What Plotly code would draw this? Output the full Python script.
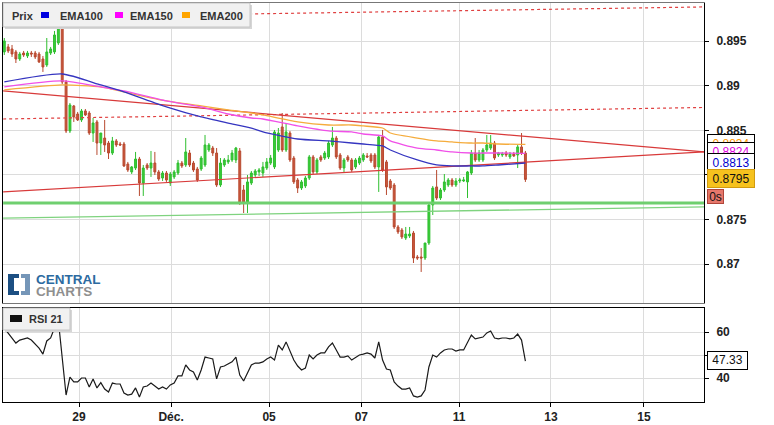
import plotly.graph_objects as go

# ---------------- data ----------------
OPEN = [0.89378, 0.89434, 0.89411, 0.89378, 0.89299, 0.89366, 0.89333, 0.89366, 0.89366, 0.89355,
        0.89299, 0.89232, 0.89366, 0.89378, 0.89478, 0.89646, 0.89042, 0.88493, 0.88773, 0.88683,
        0.88616, 0.88717, 0.88694, 0.88470, 0.88594, 0.88358, 0.88414, 0.88358, 0.88246, 0.88381,
        0.88347, 0.88347, 0.88123, 0.88034, 0.88078, 0.88179, 0.87910, 0.88112, 0.88078, 0.88134,
        0.88034, 0.87966, 0.88022, 0.87910, 0.87978, 0.88022, 0.88134, 0.88112, 0.88246, 0.88134,
        0.88067, 0.88067, 0.88112, 0.88280, 0.88302, 0.88246, 0.87888, 0.88112, 0.88146, 0.88168,
        0.88168, 0.88269, 0.87832, 0.87686, 0.87910, 0.88000, 0.88034, 0.88022, 0.88078, 0.88134,
        0.88090, 0.88280, 0.88538, 0.88280, 0.88470, 0.88190, 0.87944, 0.87854, 0.87877, 0.87966,
        0.88202, 0.88034, 0.88202, 0.88190, 0.88202, 0.88336, 0.88414, 0.88224, 0.88078, 0.88202,
        0.88168, 0.88090, 0.88134, 0.88168, 0.88213, 0.88224, 0.88224, 0.88090, 0.88426, 0.88146,
        0.87933, 0.87888, 0.87418, 0.87384, 0.87294, 0.87317, 0.87350, 0.87082, 0.87082, 0.87070,
        0.87238, 0.87664, 0.87866, 0.87742, 0.87832, 0.87888, 0.87944, 0.87888, 0.87933, 0.87933,
        0.87922, 0.88022, 0.88246, 0.88168, 0.88168, 0.88280, 0.88302, 0.88358, 0.88224, 0.88224,
        0.88246, 0.88202, 0.88235, 0.88224, 0.88314, 0.88246]
HIGH = [0.89534, 0.89467, 0.89456, 0.89400, 0.89378, 0.89389, 0.89389, 0.89389, 0.89389, 0.89378,
        0.89333, 0.89534, 0.89434, 0.89613, 0.89669, 0.89669, 0.89064, 0.88806, 0.88784, 0.88706,
        0.88739, 0.88739, 0.88717, 0.88638, 0.88616, 0.88470, 0.88616, 0.88381, 0.88426, 0.88403,
        0.88370, 0.88370, 0.88146, 0.88101, 0.88258, 0.88202, 0.88112, 0.88134, 0.88269, 0.88258,
        0.88056, 0.88045, 0.88045, 0.88034, 0.88056, 0.88168, 0.88157, 0.88414, 0.88280, 0.88157,
        0.88090, 0.88213, 0.88448, 0.88358, 0.88325, 0.88302, 0.88190, 0.88190, 0.88224, 0.88280,
        0.88314, 0.88302, 0.87888, 0.88000, 0.88045, 0.88067, 0.88078, 0.88146, 0.88190, 0.88224,
        0.88504, 0.88526, 0.88694, 0.88582, 0.88493, 0.88213, 0.87966, 0.87944, 0.87989, 0.88224,
        0.88224, 0.88190, 0.88224, 0.88269, 0.88381, 0.88538, 0.88437, 0.88246, 0.88190, 0.88224,
        0.88190, 0.88190, 0.88213, 0.88246, 0.88246, 0.88246, 0.88246, 0.88448, 0.88504, 0.88168,
        0.87955, 0.87910, 0.87440, 0.87406, 0.87418, 0.87418, 0.87373, 0.87104, 0.87182, 0.87238,
        0.87686, 0.87877, 0.88056, 0.87854, 0.88011, 0.87966, 0.87966, 0.87966, 0.87966, 0.87978,
        0.88045, 0.88280, 0.88414, 0.88280, 0.88302, 0.88448, 0.88448, 0.88381, 0.88258, 0.88258,
        0.88269, 0.88258, 0.88258, 0.88336, 0.88470, 0.88269]
LOW = [0.89344, 0.89366, 0.89322, 0.89254, 0.89277, 0.89322, 0.89310, 0.89322, 0.89299, 0.89254,
       0.89154, 0.89210, 0.89344, 0.89355, 0.89456, 0.89019, 0.88470, 0.88470, 0.88594, 0.88605,
       0.88594, 0.88661, 0.88448, 0.88370, 0.88224, 0.88224, 0.88258, 0.88179, 0.88224, 0.88314,
       0.88325, 0.88090, 0.88034, 0.88011, 0.88056, 0.87765, 0.87765, 0.88056, 0.87978, 0.88000,
       0.87933, 0.87933, 0.87922, 0.87877, 0.87955, 0.88000, 0.88078, 0.88090, 0.88090, 0.88034,
       0.87922, 0.88045, 0.88090, 0.88258, 0.88213, 0.87866, 0.87866, 0.88090, 0.88123, 0.88146,
       0.88134, 0.87664, 0.87574, 0.87574, 0.87888, 0.87978, 0.87989, 0.87978, 0.88056, 0.88112,
       0.88067, 0.88258, 0.88258, 0.88258, 0.88146, 0.87899, 0.87798, 0.87832, 0.87854, 0.87944,
       0.88011, 0.88011, 0.88146, 0.88168, 0.88179, 0.88314, 0.88179, 0.88056, 0.88022, 0.88146,
       0.88034, 0.88067, 0.88112, 0.88146, 0.88190, 0.88134, 0.88067, 0.87810, 0.88034, 0.87776,
       0.87832, 0.87395, 0.87339, 0.87283, 0.87272, 0.87294, 0.87014, 0.87048, 0.86914, 0.87048,
       0.87216, 0.87552, 0.87720, 0.87720, 0.87810, 0.87866, 0.87866, 0.87866, 0.87910, 0.87922,
       0.87742, 0.88000, 0.88146, 0.88146, 0.88146, 0.88258, 0.88280, 0.88168, 0.88202, 0.88202,
       0.88202, 0.88179, 0.88202, 0.88078, 0.88224, 0.87922]
CLOSE = [0.89501, 0.89389, 0.89355, 0.89299, 0.89355, 0.89344, 0.89366, 0.89355, 0.89322, 0.89266,
         0.89210, 0.89378, 0.89411, 0.89568, 0.89646, 0.89042, 0.88493, 0.88784, 0.88650, 0.88616,
         0.88717, 0.88672, 0.88470, 0.88582, 0.88358, 0.88470, 0.88336, 0.88246, 0.88381, 0.88336,
         0.88336, 0.88101, 0.88056, 0.88090, 0.88179, 0.87910, 0.88078, 0.88078, 0.88134, 0.88034,
         0.87955, 0.88022, 0.87944, 0.88011, 0.88034, 0.88134, 0.88101, 0.88258, 0.88112, 0.88056,
         0.87944, 0.88190, 0.88336, 0.88336, 0.88246, 0.87888, 0.88134, 0.88168, 0.88168, 0.88246,
         0.88302, 0.87686, 0.87686, 0.87922, 0.88022, 0.88045, 0.88056, 0.88090, 0.88146, 0.88190,
         0.88482, 0.88470, 0.88280, 0.88482, 0.88168, 0.87922, 0.87854, 0.87922, 0.87966, 0.88202,
         0.88034, 0.88168, 0.88168, 0.88246, 0.88358, 0.88414, 0.88202, 0.88078, 0.88168, 0.88168,
         0.88056, 0.88168, 0.88190, 0.88224, 0.88202, 0.88157, 0.88090, 0.88426, 0.88056, 0.87866,
         0.87854, 0.87418, 0.87362, 0.87306, 0.87339, 0.87339, 0.87070, 0.87070, 0.87070, 0.87238,
         0.87664, 0.87854, 0.87742, 0.87832, 0.87922, 0.87944, 0.87888, 0.87933, 0.87944, 0.87944,
         0.88034, 0.88246, 0.88168, 0.88246, 0.88280, 0.88336, 0.88358, 0.88190, 0.88246, 0.88235,
         0.88224, 0.88235, 0.88213, 0.88314, 0.88246, 0.87950]

RSI21 = [61.7, 59.6, 57.4, 55.2, 56.5, 57.0, 57.4, 56.5, 54.8, 53.0,
         50.4, 56.1, 57.4, 61.7, 65.0, 50.0, 32.6, 40.4, 38.3, 38.3,
         40.0, 40.0, 36.1, 39.6, 35.7, 38.0, 35.2, 33.9, 37.8, 37.4,
         37.4, 33.5, 32.6, 33.0, 35.7, 31.7, 36.1, 36.5, 37.8, 36.5,
         35.2, 36.1, 35.2, 37.0, 37.8, 40.9, 40.9, 45.7, 43.5, 42.6,
         39.1, 43.5, 49.1, 48.7, 48.3, 39.6, 44.8, 45.2, 46.1, 47.0,
         49.1, 41.3, 38.7, 42.6, 45.7, 46.5, 46.5, 47.0, 48.3, 49.1,
         47.8, 54.3, 52.2, 55.7, 51.3, 47.8, 45.2, 43.5, 44.3, 50.0,
         48.3, 50.0, 50.9, 50.9, 53.5, 55.2, 52.2, 49.1, 49.1, 49.6,
         47.8, 49.1, 50.0, 50.4, 50.9, 50.4, 48.7, 55.7, 47.8, 43.9,
         43.5, 38.3, 36.5, 35.2, 35.2, 35.7, 32.2, 31.7, 32.2, 34.8,
         44.8, 50.0, 49.1, 50.9, 52.2, 52.6, 52.6, 51.7, 52.2, 52.2,
         55.2, 58.7, 57.0, 57.4, 57.8, 59.6, 60.4, 57.4, 57.0, 57.4,
         57.4, 57.0, 57.4, 59.1, 56.5, 47.33]

EMA_X = [0, 15, 25, 31, 42, 51, 58, 64, 67, 76, 84, 90, 93, 98, 100, 107, 112, 116, 121, 124, 128, 135]
EMA100 = [0.89042, 0.89131, 0.89008, 0.88930, 0.88762, 0.88650, 0.88582, 0.88526, 0.88482, 0.88403,
          0.88381, 0.88358, 0.88347, 0.88325, 0.88280, 0.88168, 0.88112, 0.88101, 0.88101, 0.88101,
          0.88112, 0.88134]
EMA150 = [0.88986, 0.89053, 0.88986, 0.88941, 0.88829, 0.88762, 0.88683, 0.88638, 0.88627, 0.88549,
          0.88493, 0.88482, 0.88459, 0.88437, 0.88381, 0.88302, 0.88280, 0.88258, 0.88246, 0.88246,
          0.88246, 0.88243]
EMA200 = [0.88952, 0.89008, 0.88986, 0.88930, 0.88829, 0.88773, 0.88728, 0.88694, 0.88672, 0.88594,
          0.88560, 0.88560, 0.88549, 0.88526, 0.88470, 0.88414, 0.88381, 0.88370, 0.88358, 0.88358,
          0.88347, 0.88342]

# drawn trend lines (start / end in candle-index units and price)
TREND_X = [-0.3, 181.3]
RES_DOWN = [0.88941, 0.88258]
SUP_UP = [0.87810, 0.88258]
DASH_TOP = [0.89761, 0.89882]
DASH_MID = [0.88627, 0.88756]
GREEN_FLAT = [0.87686, 0.87686]
GREEN_THIN = [0.87518, 0.87642]

TICK_POS = [19.35, 43.2, 68.6, 92.5, 117.8, 141.6, 165.7]
TICK_LABELS = ["29", "Déc.", "05", "07", "11", "13", "15"]
PRICE_TICKS = [0.87, 0.875, 0.88, 0.885, 0.89, 0.895]
PRICE_LABELS = ["0.87", "0.875", "0.88", "0.885", "0.89", "0.895"]
RSI_TICKS = [40, 50, 60]
RSI_LABELS = ["40", "", "60"]

# ---------------- figure ----------------
W, H = 774, 425
def px(x): return x / W
def py(y): return 1 - y / H

FONT = "Liberation Sans, Arial, sans-serif"
X = list(range(len(CLOSE)))

fig = go.Figure()

def seg(yvals, color, width, dash="solid"):
    fig.add_trace(go.Scatter(x=TREND_X, y=yvals, mode="lines", xaxis="x", yaxis="y",
                             line=dict(color=color, width=width, dash=dash),
                             hoverinfo="skip", showlegend=False))

seg(GREEN_THIN, "#7fd37f", 1.3)
seg(GREEN_FLAT, "#6fcf6f", 3)
seg(DASH_TOP, "#e04040", 1.2, "3px,3px")
seg(DASH_MID, "#e04040", 1.2, "3px,3px")
seg(RES_DOWN, "#d83a3a", 1.2)
seg(SUP_UP, "#d83a3a", 1.2)

fig.add_trace(go.Candlestick(
    x=X, open=OPEN, high=HIGH, low=LOW, close=CLOSE, xaxis="x", yaxis="y",
    increasing=dict(line=dict(color="#2fbf2f", width=1), fillcolor="#3acc3a"),
    decreasing=dict(line=dict(color="#b8492f", width=1), fillcolor="#c9573d"),
    whiskerwidth=0, hoverinfo="skip", showlegend=False))

for vals, col in [(EMA200, "#f5ac3c"), (EMA150, "#f050e8"), (EMA100, "#3535c0")]:
    fig.add_trace(go.Scatter(x=EMA_X, y=vals, mode="lines", xaxis="x", yaxis="y",
                             line=dict(color=col, width=1.3, shape="spline", smoothing=0.6),
                             hoverinfo="skip", showlegend=False))

fig.add_trace(go.Scatter(x=X, y=RSI21, mode="lines", xaxis="x2", yaxis="y2",
                         line=dict(color="#1a1a1a", width=1.2),
                         hoverinfo="skip", showlegend=False))

tickfont = dict(family=FONT, size=12, color="#222", weight="bold")
grid = "#dcdcdc"
xr = [-0.34, 181.27]

fig.update_layout(
    width=W, height=H, margin=dict(l=0, r=0, t=0, b=0),
    paper_bgcolor="white", plot_bgcolor="white", showlegend=False,
    xaxis=dict(domain=[px(3), px(704)], range=xr, anchor="y", type="linear",
               tickvals=TICK_POS, showticklabels=False, ticks="",
               showgrid=True, gridcolor=grid, gridwidth=1, zeroline=False,
               showline=True, mirror=True, linecolor="#777", linewidth=1,
               rangeslider=dict(visible=False)),
    yaxis=dict(domain=[py(302.5), py(3)], range=[0.86572, 0.89926], anchor="x", side="right",
               tickvals=PRICE_TICKS, ticktext=PRICE_LABELS, ticks="outside", ticklen=4,
               tickcolor="#000", tickfont=tickfont, ticklabelstandoff=5,
               showgrid=True, gridcolor=grid, zeroline=False,
               showline=True, mirror=True, linecolor="#000", linewidth=1),
    xaxis2=dict(domain=[px(3), px(704)], range=xr, anchor="y2", type="linear",
                tickvals=TICK_POS, ticktext=TICK_LABELS, ticks="outside", ticklen=4,
                tickcolor="#000", tickfont=tickfont,
                showgrid=True, gridcolor=grid, zeroline=False,
                showline=True, mirror=True, linecolor="#000", linewidth=1),
    yaxis2=dict(domain=[py(402), py(307.5)], range=[29.57, 70.65], anchor="x2", side="right",
                tickvals=RSI_TICKS, ticktext=RSI_LABELS, ticks="outside", ticklen=4,
                tickcolor="#000", tickfont=tickfont, ticklabelstandoff=5,
                showgrid=True, gridcolor=grid, zeroline=False,
                showline=True, mirror=True, linecolor="#000", linewidth=1),
)

shapes = []
def rect(x0, y0, x1, y1, fill, line=None, lw=1):
    shapes.append(dict(type="rect", xref="paper", yref="paper",
                       x0=px(x0), x1=px(x1), y0=py(y1), y1=py(y0),
                       fillcolor=fill, line=dict(color=line or fill, width=lw if line else 0),
                       layer="above"))

def path(points, fill):
    d = "M " + " L ".join(f"{px(a):.5f},{py(b):.5f}" for a, b in points) + " Z"
    shapes.append(dict(type="path", xref="paper", yref="paper", path=d,
                       fillcolor=fill, line=dict(width=0), layer="above"))

# price legend box
rect(5, 5, 252, 29, "#d6d6d6")
rect(3, 3, 250, 27, "#f1f1f1", "#c4c4c4")
rect(41, 12, 49, 18, "#0000e0")
rect(115, 12, 123, 18, "#ff00ff")
rect(182, 12, 190, 18, "#ffa500")
# RSI legend box
rect(5, 310, 72, 332, "#d6d6d6")
rect(3, 308, 70, 330, "#f1f1f1", "#c4c4c4")
rect(10, 315, 22, 322, "#111111")
# logo
path([(8, 274), (19, 274), (19, 278), (14, 278), (14, 291), (19, 291), (19, 295), (8, 295)], "#1c4f82")
path([(21, 274), (30, 274), (30, 295), (21, 295), (21, 291), (25, 291), (25, 278), (21, 278)], "#7596b8")

fig.update_layout(shapes=shapes)

ann = []
def text(x, y, s, color="#333", size=11, bold=True, xanchor="left"):
    ann.append(dict(xref="paper", yref="paper", x=px(x), y=py(y), text=s, showarrow=False,
                    xanchor=xanchor, yanchor="middle",
                    font=dict(family=FONT, size=size, color=color, weight="bold" if bold else "normal")))

text(10, 16, "Prix")
text(58, 16, "EMA100")
text(128, 16, "EMA150")
text(198, 16, "EMA200")
text(27, 319, "RSI 21")
text(34, 279.5, "CENTRAL", "#2c6aa0", 13.5)
text(34, 291, "CHARTS", "#8f8f8f", 13.5)

def box(x0, y0, x1, y1, s, bg, border, color):
    ann.append(dict(xref="paper", yref="paper", x=px(x0), y=py(y0), xanchor="left", yanchor="top",
                    text=s, showarrow=False, width=x1 - x0 - 2, height=y1 - y0 - 2,
                    bgcolor=bg, bordercolor=border, borderwidth=1, borderpad=0,
                    align="center", valign="middle",
                    font=dict(family=FONT, size=12, color=color)))

box(707, 134, 755, 154, f"{EMA200[-1]:.4f}", "white", "#000", "#ff9900")
box(707, 141.7, 755, 162, f"{EMA150[-1]:.4f}", "white", "#000", "#e000e0")
box(707, 153.3, 755, 173.3, f"{EMA100[-1]:.4f}", "white", "#000", "#0000cc")
box(707, 169.3, 755, 188.7, f"{CLOSE[-1]:.4f}", "#f6c21e", "#d19b10", "#111")
box(707, 189, 724, 204, "0s", "#e6776b", "#b0453a", "#111")
box(707, 351, 748, 369.5, f"{RSI21[-1]:.2f}", "white", "#000", "#111")

fig.update_layout(annotations=ann)

fig.write_html("out.html", config={"displayModeBar": False})
